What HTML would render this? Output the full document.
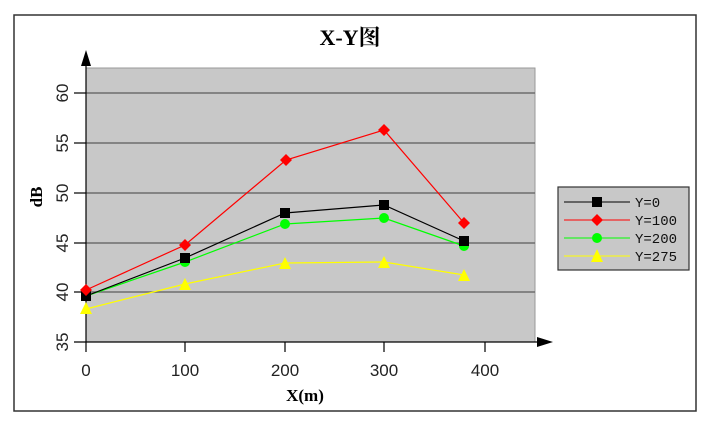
<!DOCTYPE html>
<html><head><meta charset="utf-8"><style>body{margin:0;background:#fff}svg{display:block}</style></head>
<body>
<svg width="706" height="423" xmlns="http://www.w3.org/2000/svg" font-family="Liberation Sans, sans-serif">
<rect x="14" y="15" width="682" height="396" fill="#fff" stroke="#333" stroke-width="1.5"/>
<text x="350" y="45" text-anchor="middle" font-size="22" font-weight="bold" font-family="Liberation Serif, Noto Serif CJK SC, serif">X-Y图</text>
<rect x="86" y="68" width="449" height="274" fill="#c8c8c8" stroke="#999"/>
<g stroke="#6e6e6e" stroke-width="1.5">
<line x1="86" y1="93" x2="535" y2="93"/><line x1="86" y1="143" x2="535" y2="143"/>
<line x1="86" y1="193" x2="535" y2="193"/><line x1="86" y1="243" x2="535" y2="243"/>
<line x1="86" y1="292" x2="535" y2="292"/></g>
<g stroke="#000" stroke-width="1.2">
<line x1="86" y1="55" x2="86" y2="352"/><line x1="74" y1="342" x2="545" y2="342"/>
<line x1="74" y1="93" x2="86" y2="93"/><line x1="74" y1="143" x2="86" y2="143"/><line x1="74" y1="193" x2="86" y2="193"/><line x1="74" y1="243" x2="86" y2="243"/><line x1="74" y1="292" x2="86" y2="292"/>
<line x1="185" y1="342" x2="185" y2="352"/><line x1="285" y1="342" x2="285" y2="352"/><line x1="384" y1="342" x2="384" y2="352"/><line x1="485" y1="342" x2="485" y2="352"/></g>
<polygon points="86,50 81,66 91,66" fill="#000"/><polygon points="553,342 537,337 537,347" fill="#000"/>
<g font-size="17" fill="#222" text-anchor="middle">
<text transform="translate(68,93) rotate(-90)">60</text><text transform="translate(68,143) rotate(-90)">55</text>
<text transform="translate(68,193) rotate(-90)">50</text><text transform="translate(68,243) rotate(-90)">45</text>
<text transform="translate(68,292) rotate(-90)">40</text><text transform="translate(68,342) rotate(-90)">35</text>
<text x="86" y="376">0</text><text x="185" y="376">100</text><text x="285" y="376">200</text><text x="384" y="376">300</text><text x="485" y="376">400</text></g>
<text transform="translate(42,197) rotate(-90)" text-anchor="middle" font-size="17" font-weight="bold" font-family="Liberation Serif, serif">dB</text>
<text x="305" y="401" text-anchor="middle" font-size="17" font-weight="bold" font-family="Liberation Serif, Noto Serif CJK SC, serif">X(m)</text>
<polyline points="86,309 185,284 285,263 384,262 464,275" fill="none" stroke="#ffff00" stroke-width="1.2"/>
<polyline points="86,296 185,262 285,224 384,218 464,246" fill="none" stroke="#00ff00" stroke-width="1.2"/>
<polyline points="86,296 185,258 285,213 384,205 464,241" fill="none" stroke="#000" stroke-width="1.2"/>
<polyline points="86,290 185,245 286,160 384,130 464,223" fill="none" stroke="#ff0000" stroke-width="1.2"/>
<g fill="#ffff00"><polygon points="86,302 80,314 92,314"/><polygon points="185,278 179,290 191,290"/><polygon points="285,257 279,269 291,269"/><polygon points="384,256 378,268 390,268"/><polygon points="464,269 458,281 470,281"/></g>
<g fill="#00ff00"><circle cx="86" cy="296" r="5"/><circle cx="185" cy="262" r="5"/><circle cx="285" cy="224" r="5"/><circle cx="384" cy="218" r="5"/><circle cx="464" cy="246" r="5"/></g>
<g fill="#000"><rect x="81" y="291" width="10" height="10"/><rect x="180" y="253" width="10" height="10"/><rect x="280" y="208" width="10" height="10"/><rect x="379" y="200" width="10" height="10"/><rect x="459" y="236" width="10" height="10"/></g>
<g fill="#ff0000"><polygon points="86,284 92,290 86,296 80,290"/><polygon points="185,239 191,245 185,251 179,245"/><polygon points="286,154 292,160 286,166 280,160"/><polygon points="384,124 390,130 384,136 378,130"/><polygon points="464,217 470,223 464,229 458,223"/></g>
<rect x="558" y="187" width="131" height="83" fill="#c8c8c8" stroke="#333" stroke-width="1.2"/>
<line x1="564" y1="202" x2="630" y2="202" stroke="#000"/><rect x="592" y="197" width="10" height="10"/>
<line x1="564" y1="220" x2="630" y2="220" stroke="#f00"/><polygon points="597,214 603,220 597,226 591,220" fill="#f00"/>
<line x1="564" y1="238" x2="630" y2="238" stroke="#0f0"/><circle cx="597" cy="238" r="5" fill="#0f0"/>
<line x1="564" y1="256" x2="630" y2="256" stroke="#ff0"/><polygon points="597,249 591,262 603,262" fill="#ff0"/>
<g font-size="14" fill="#111" font-family="Liberation Mono, monospace"><text x="635" y="207">Y=0</text><text x="635" y="225">Y=100</text><text x="635" y="243">Y=200</text><text x="635" y="261">Y=275</text></g>
</svg>
</body></html>
